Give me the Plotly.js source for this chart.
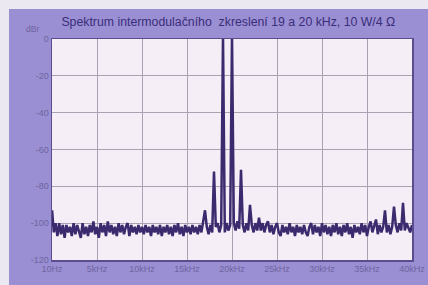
<!DOCTYPE html>
<html>
<head>
<meta charset="utf-8">
<script src="https://cdn.plot.ly/plotly-3.0.1.min.js"></script>
<style>
html,body{margin:0;padding:0;width:428px;height:285px;background:#ece8f1;overflow:hidden;}
#chart{position:absolute;left:9px;top:9px;width:419px;height:276px;}
</style>
</head>
<body>
<div id="chart"></div>
<script>
// Sampling step of the spectrum (Hz) and levels in dBr
const stepHz = 200;
const levels = [
  -93,-105,-100,-107,-100,-106,-101,-108,-101,-105,-102,-107,-100,-106,-101,-104,-108,-100,-106,-102,
  -107,-101,-105,-99,-106,-102,-108,-100,-105,-101,-107,-99,-105,-101,-106,-102,-107,-100,-105,-101,
  -106,-102,-100,-107,-101,-105,-102,-106,-101,-105,-102,-106,-101,-105,-102,-107,-101,-105,-102,-106,
  -101,-107,-102,-105,-101,-106,-102,-107,-101,-105,-100,-106,-102,-107,-101,-105,-102,-106,-101,-105,
  -102,-106,-101,-105,-100,-93,-102,-106,-101,-105,-72,-102,-100,-105,-101,2,-105,-100,-104,-101,
  2,-100,-104,-99,-103,-71,-101,-105,-100,-104,-90,-101,-105,-100,-104,-97,-104,-100,-105,-101,
  -99,-105,-101,-106,-102,-100,-105,-107,-101,-105,-102,-106,-100,-105,-102,-107,-101,-105,-102,-106,
  -101,-105,-107,-102,-100,-106,-101,-105,-102,-107,-100,-105,-101,-106,-102,-107,-101,-105,-100,-106,
  -102,-107,-101,-105,-100,-106,-102,-108,-101,-105,-102,-106,-100,-105,-101,-107,-102,-99,-105,-101,
  -98,-106,-101,-105,-102,-93,-105,-101,-106,-102,-91,-101,-105,-100,-104,-89,-104,-100,-103,-105,
  -101
];
const xTickVals = [10, 5000, 10000, 15000, 20000, 25000, 30000, 35000, 40000];
const xTickText = ['10Hz','5kHz','10kHz','15kHz','20kHz','25kHz','30kHz','35kHz','40kHz'];
const yTickVals = [0, -20, -40, -60, -80, -100, -120];
const yTickText = ['0','-20','-40','-60','-80','-100','-120'];
const titleText = 'Spektrum intermodulačního  zkreslení 19 a 20 kHz, 10 W/4 Ω';

const freqs = levels.map((_, i) => i === 0 ? 10 : i * stepHz);

const tickFont = {family: 'Liberation Sans, Arial, sans-serif', size: 9, color: '#6f64a0'};
Plotly.newPlot('chart', [{
  x: freqs, y: levels, type: 'scatter', mode: 'lines',
  line: {color: '#3b2a6e', width: 2.5}, hoverinfo: 'skip'
}], {
  width: 419, height: 276,
  margin: {l: 43, r: 16, t: 30, b: 25},
  paper_bgcolor: '#9a8fd3',
  plot_bgcolor: '#f5eef7',
  showlegend: false,
  title: {text: titleText, font: {family: 'Liberation Sans, Arial, sans-serif', size: 12.3, color: '#3a2d7a'},
          x: 0.125, xanchor: 'left', y: 0.955, yanchor: 'middle'},
  xaxis: {range: [0, 40000], tickvals: xTickVals, ticktext: xTickText, tickfont: tickFont,
          showgrid: true, gridcolor: '#a9a2b2', gridwidth: 1, zeroline: false,
          showline: true, linecolor: '#5b4c8e', linewidth: 1.5, mirror: true, ticks: '', ticklen: 0},
  yaxis: {range: [-120, 0], tickvals: yTickVals, ticktext: yTickText, tickfont: tickFont,
          showgrid: true, gridcolor: '#a9a2b2', gridwidth: 1, zeroline: false,
          showline: true, linecolor: '#5b4c8e', linewidth: 1.5, mirror: true, ticks: '', ticklen: 0},
  annotations: [{text: 'dBr', xref: 'paper', yref: 'paper', x: -0.03, y: 1.045, xanchor: 'right', yanchor: 'middle',
                 showarrow: false, font: {family: 'Liberation Sans, Arial, sans-serif', size: 8.5, color: '#6f64a0'}}]
}, {staticPlot: true, displayModeBar: false});
</script>
</body>
</html>
